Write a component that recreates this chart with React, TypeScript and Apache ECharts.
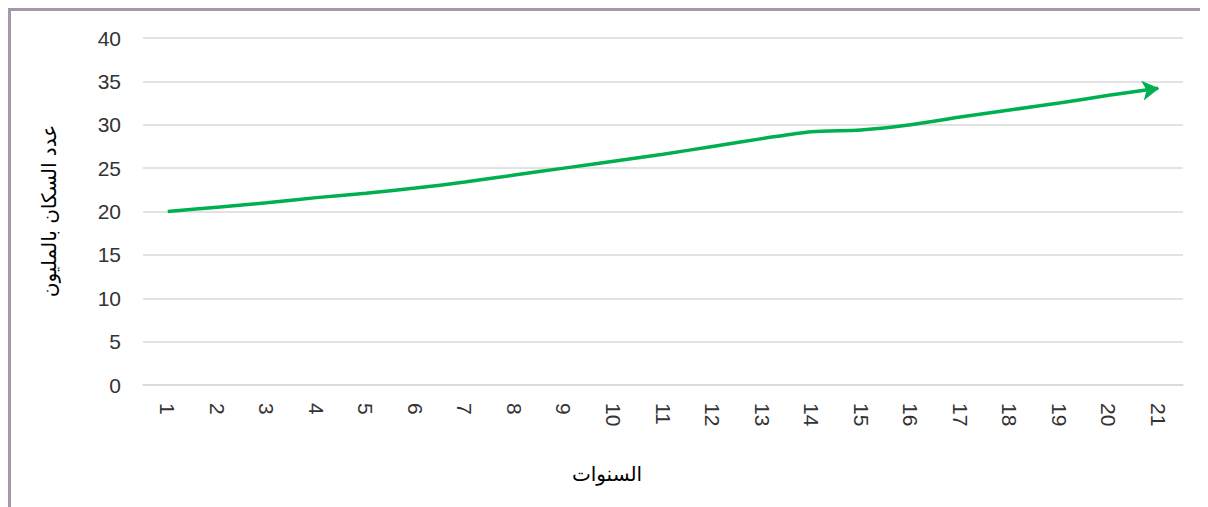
import React, { useEffect, useRef } from "react";
import * as echarts from "echarts";

const years = ["1","2","3","4","5","6","7","8","9","10","11","12","13","14","15","16","17","18","19","20","21"];
const population = [20, 20.5, 21, 21.6, 22.1, 22.7, 23.4, 24.2, 25.0, 25.8, 26.6, 27.5, 28.4, 29.2, 29.4, 30.0, 30.9, 31.7, 32.5, 33.4, 34.2];
const yTitle = "عدد السكان بالمليون";
const xTitle = "السنوات";

export default function App() {
  const ref = useRef<HTMLDivElement>(null);
  useEffect(() => {
    document.documentElement.style.overflow = "hidden";
    document.body.style.overflow = "hidden";
    if (!ref.current) return;
    const chart = echarts.init(ref.current, undefined, { renderer: "svg" });
    const last = population.length - 1;
    const data = population.map((v, i) =>
      i === last
        ? {
            value: v,
            symbol: "arrow",
            symbolSize: [15, 17],
            symbolRotate: -82,
            symbolOffset: [1, 0],
            itemStyle: { color: "#00b050" },
          }
        : v
    );
    chart.setOption({
      animation: false,
      backgroundColor: "#ffffff",
      grid: { left: 132, top: 27, width: 1040, height: 347 },
      xAxis: {
        type: "category",
        data: years,
        boundaryGap: true,
        axisLine: { show: true, lineStyle: { color: "#d9d9d9", width: 1.5 } },
        axisTick: { show: false },
        axisLabel: {
          rotate: -90,
          margin: 18,
          color: "#333333",
          fontSize: 21,
          fontFamily: "Liberation Sans, Arial, sans-serif",
        },
      },
      yAxis: {
        type: "value",
        min: 0,
        max: 40,
        interval: 5,
        axisLine: { show: false },
        axisTick: { show: false },
        splitLine: { lineStyle: { color: "#d9d9d9", width: 1.5 } },
        axisLabel: {
          margin: 22,
          color: "#333333",
          fontSize: 21,
          fontFamily: "Liberation Sans, Arial, sans-serif",
        },
      },
      graphic: [
        {
          type: "text",
          x: 38,
          y: 200,
          rotation: Math.PI / 2,
          style: {
            text: yTitle,
            fill: "#000000",
            font: "20px 'DejaVu Sans', serif",
            align: "center",
            verticalAlign: "middle",
          },
        },
        {
          type: "text",
          x: 596,
          y: 463,
          style: {
            text: xTitle,
            fill: "#000000",
            font: "20px 'DejaVu Sans', serif",
            align: "center",
            verticalAlign: "middle",
          },
        },
      ],
      series: [
        {
          type: "line",
          data,
          symbol: "none",
          smooth: 0.3,
          lineStyle: { color: "#00b050", width: 3.5 },
          itemStyle: { color: "#00b050" },
        },
      ],
    });
    return () => chart.dispose();
  }, []);

  return (
    <div
      style={{
        width: 1260,
        height: 520,
        borderTop: "3px solid #a597a9",
        borderLeft: "3px solid #a597a9",
        background: "#fff",
      }}
    >
      <div ref={ref} style={{ width: 1197, height: 496 }} />
    </div>
  );
}
